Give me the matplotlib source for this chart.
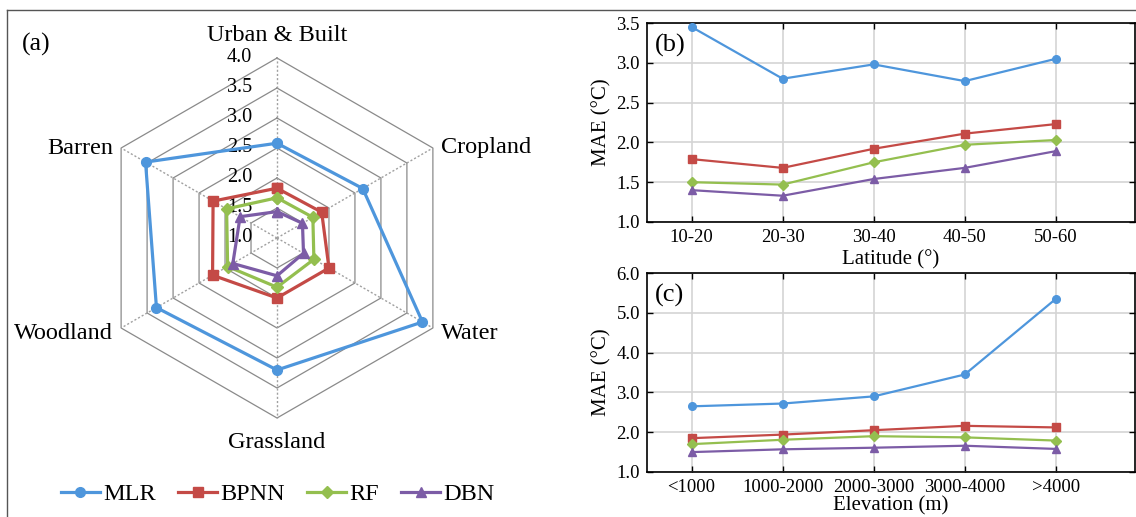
import numpy as np
import matplotlib
matplotlib.use('Agg')
import matplotlib.pyplot as plt
from matplotlib.lines import Line2D

plt.rcParams['font.family'] = ['Liberation Serif', 'DejaVu Serif']

# ---- data ----
models = ['MLR', 'BPNN', 'RF', 'DBN']
colors = ['#4e96dc', '#c44a46', '#94bf4f', '#7c5ca6']
markers = ['o', 's', 'D', '^']

# (a) land cover, clockwise from top
landcover = ['Urban & Built', 'Cropland', 'Water', 'Grassland', 'Woodland', 'Barren']
mlr_a = [2.58, 2.65, 3.80, 3.20, 3.32, 3.53]
bpnn_a = [1.83, 1.86, 2.00, 2.00, 2.24, 2.23]
rf_a = [1.67, 1.69, 1.71, 1.82, 1.95, 1.97]
dbn_a = [1.44, 1.49, 1.51, 1.63, 1.85, 1.71]
radar_ticks = [1.0, 1.5, 2.0, 2.5, 3.0, 3.5, 4.0]

# (b) latitude
lat_labels = ['10-20', '20-30', '30-40', '40-50', '50-60']
mlr_b = [3.45, 2.80, 2.98, 2.77, 3.05]
bpnn_b = [1.79, 1.68, 1.92, 2.11, 2.23]
rf_b = [1.50, 1.47, 1.75, 1.97, 2.03]
dbn_b = [1.40, 1.33, 1.54, 1.68, 1.89]

# (c) elevation
elev_labels = ['<1000', '1000-2000', '2000-3000', '3000-4000', '>4000']
mlr_c = [2.65, 2.72, 2.90, 3.45, 5.35]
bpnn_c = [1.85, 1.94, 2.05, 2.16, 2.12]
rf_c = [1.70, 1.81, 1.90, 1.87, 1.79]
dbn_c = [1.50, 1.57, 1.61, 1.66, 1.58]

W, H = 1136, 517
fig = plt.figure(figsize=(W / 100, H / 100), dpi=100)

# outer frame lines (top and left)
fig.add_artist(Line2D([7 / W, 1], [1 - 10 / H, 1 - 10 / H], color='#555555', lw=1.0))
fig.add_artist(Line2D([7 / W, 7 / W], [0, 1 - 10 / H], color='#555555', lw=1.0))

# ---- (a) radar ----
px = 60.0  # pixels per 1.0 of MAE
cx, cy = 277, 238
ax = fig.add_axes([0, 0, 555 / W, 1])
ax.set_xlim(-cx / px, (555 - cx) / px)
ax.set_ylim(-(H - cy) / px, cy / px)
ax.axis('off')

angles = np.deg2rad([90, 30, -30, -90, -150, 150])
base = radar_ticks[0]


def to_xy(vals):
    r = np.array(vals) - base
    x = r * np.cos(angles)
    y = r * np.sin(angles)
    return np.append(x, x[0]), np.append(y, y[0])


for t in radar_ticks[1:]:
    gx, gy = to_xy([t] * 6)
    ax.plot(gx, gy, color='#8a8a8a', lw=0.9, zorder=1)
ox, oy = to_xy([radar_ticks[-1]] * 6)
for i in range(6):
    ax.plot([0, ox[i]], [0, oy[i]], color='#a0a0a0', lw=1.0, ls=(0, (1.5, 1.5)), zorder=1)

for t in radar_ticks:
    ax.annotate('%.1f' % t, (0, t - base), xytext=(-18, 0), textcoords='offset points',
                ha='right', va='center', fontsize=14.5, zorder=2)

for vals, c, m, lab in zip([mlr_a, bpnn_a, rf_a, dbn_a], colors, markers, models):
    x, y = to_xy(vals)
    ms = 7 if m != 'D' else 6
    ax.plot(x, y, color=c, lw=2.3, marker=m, ms=ms, label=lab, zorder=3)

label_offsets = [(0, 16, 'center', 'center'), (6, 0, 'left', 'center'),
                 (6, -4, 'left', 'center'), (0, -18, 'center', 'center'),
                 (-6, -4, 'right', 'center'), (-6, 0, 'right', 'center')]
for i, name in enumerate(landcover):
    dx, dy, ha, va = label_offsets[i]
    ax.annotate(name, (ox[i], oy[i]), xytext=(dx, dy), textcoords='offset points',
                ha=ha, va=va, fontsize=17.5)

ax.text(36 / px - cx / px, cy / px - 44 / px, '(a)', fontsize=18.5, ha='center', va='center')

ax.legend(loc='center', bbox_to_anchor=(278 / 555, 1 - 494 / H), ncol=4, frameon=False,
          fontsize=17.5, handlelength=1.6, handletextpad=0.15, columnspacing=0.9,
          numpoints=1)

# ---- (b) and (c) line charts ----
def line_panel(rect, labels, series, ylim, yticks, xlabel, tag, xpad):
    a = fig.add_axes(rect)
    xs = np.arange(len(labels))
    for vals, c, m in zip(series, colors, markers):
        ms = 5.5 if m != 'D' else 4.6
        a.plot(xs, vals, color=c, lw=1.6, marker=m, ms=ms, zorder=3)
    a.set_xlim(-0.49, 4.87)
    a.set_ylim(*ylim)
    a.set_yticks(yticks)
    a.set_yticklabels(['%.1f' % v for v in yticks])
    a.set_xticks(xs)
    a.set_xticklabels(labels)
    a.grid(True, color='#d4d4d4', lw=1.2, zorder=0)
    a.tick_params(direction='in', top=True, right=True, length=4, width=1.0,
                  labelsize=13.5, pad=5)
    a.set_ylabel('MAE (\u00b0C)', fontsize=15, labelpad=4)
    a.set_xlabel(xlabel, fontsize=15, labelpad=xpad)
    for s in a.spines.values():
        s.set_linewidth(1.2)
    a.text(0.047, 0.885, tag, transform=a.transAxes, fontsize=19, ha='center', va='center')
    return a


line_panel([647 / W, 1 - 222 / H, 488 / W, 199 / H], lat_labels,
           [mlr_b, bpnn_b, rf_b, dbn_b], (1.0, 3.5),
           [1.0, 1.5, 2.0, 2.5, 3.0, 3.5], 'Latitude (\u00b0)', '(b)', 3)
line_panel([647 / W, 1 - 472 / H, 488 / W, 199 / H], elev_labels,
           [mlr_c, bpnn_c, rf_c, dbn_c], (1.0, 6.0),
           [1.0, 2.0, 3.0, 4.0, 5.0, 6.0], 'Elevation (m)', '(c)', 0)

fig.savefig('out.png', dpi=100)
